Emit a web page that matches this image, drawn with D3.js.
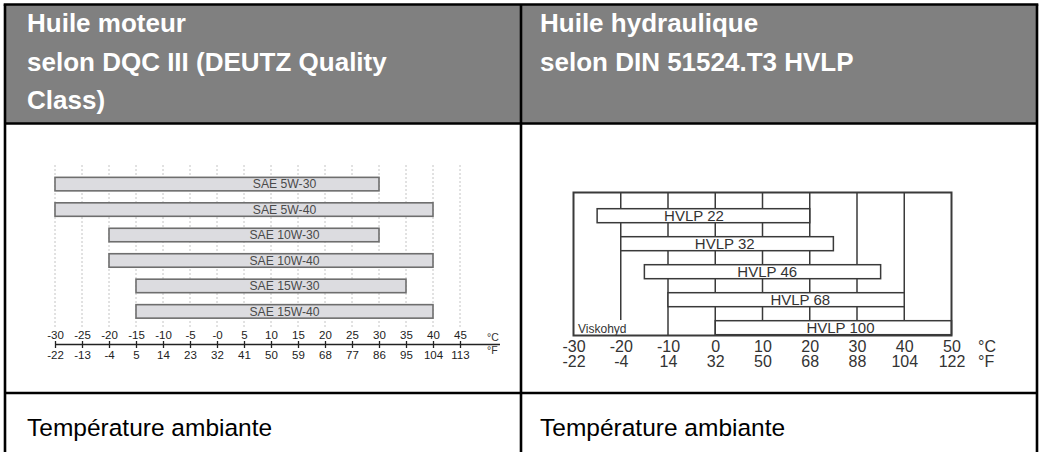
<!DOCTYPE html>
<html>
<head>
<meta charset="utf-8">
<script src="https://cdn.jsdelivr.net/npm/d3@7"></script>
<style>
  html, body { margin: 0; padding: 0; background: #fff; }
  svg { display: block; font-family: "Liberation Sans", Arial, sans-serif; }
</style>
</head>
<body>
<svg id="chart" width="1042" height="452"></svg>
<script>
// ---- Engine oil (DQC III) : SAE grades and their temperature range in °C
const saeGrades = ["SAE 5W-30", "SAE 5W-40", "SAE 10W-30", "SAE 10W-40", "SAE 15W-30", "SAE 15W-40"];
const saeMin = [-30, -30, -20, -20, -15, -15];
const saeMax = [30, 40, 30, 40, 35, 40];
const saeTicksC = [-30, -25, -20, -15, -10, -5, 0, 5, 10, 15, 20, 25, 30, 35, 40, 45];
const saeLabelsC = ["-30", "-25", "-20", "-15", "-10", "-5", "-0", "5", "10", "15", "20", "25", "30", "35", "40", "45"];
const saeLabelsF = ["-22", "-13", "-4", "5", "14", "23", "32", "41", "50", "59", "68", "77", "86", "95", "104", "113"];

// ---- Hydraulic oil (DIN 51524.T3 HVLP) : grades and temperature range in °C
const hvlpGrades = ["HVLP 22", "HVLP 32", "HVLP 46", "HVLP 68", "HVLP 100"];
const hvlpMin = [-25, -20, -15, -10, 0];
const hvlpMax = [20, 25, 35, 40, 50];
const hvlpLabelAt = [-4.5, 2, 11, 18, 26.5];
const hvlpTicksC = [-30, -20, -10, 0, 10, 20, 30, 40, 50];
const hvlpLabelsC = ["-30", "-20", "-10", "0", "10", "20", "30", "40", "50"];
const hvlpLabelsF = ["-22", "-4", "14", "32", "50", "68", "88", "104", "122"];
const hvlpGrid = [-20, -10, 0, 10, 20, 30, 40];

// ---- Table texts
const headLeft = ["Huile moteur", "selon DQC III (DEUTZ Quality", "Class)"];
const headRight = ["Huile hydraulique", "selon DIN 51524.T3 HVLP"];
const footText = "Température ambiante";

const svg = d3.select("#chart");

// ---------- table frame ----------
const T = { left: 5, right: 1037, mid: 521, top: 4.5, headBottom: 123.5, rowLine: 393, bottom: 470 };
svg.append("rect")
  .attr("x", T.left).attr("y", T.top)
  .attr("width", T.right - T.left).attr("height", T.headBottom - T.top)
  .attr("fill", "#808080");

const borders = svg.append("g").attr("stroke", "#000").attr("stroke-width", 2.6);
borders.append("line").attr("x1", T.left).attr("x2", T.left).attr("y1", T.top).attr("y2", T.bottom);
borders.append("line").attr("x1", T.right).attr("x2", T.right).attr("y1", T.top).attr("y2", T.bottom);
borders.append("line").attr("x1", T.mid).attr("x2", T.mid).attr("y1", T.top).attr("y2", T.bottom);
borders.append("line").attr("x1", T.left - 1.3).attr("x2", T.right + 1.3).attr("y1", T.top).attr("y2", T.top);
borders.append("line").attr("x1", T.left).attr("x2", T.right).attr("y1", T.headBottom).attr("y2", T.headBottom);
borders.append("line").attr("x1", T.left).attr("x2", T.right).attr("y1", T.rowLine).attr("y2", T.rowLine);

function headText(lines, x) {
  svg.append("g").selectAll("text").data(lines).join("text")
    .attr("x", x).attr("y", (d, i) => 32 + i * 38.5)
    .attr("fill", "#fff").attr("font-weight", "bold").attr("font-size", 26)
    .text(d => d);
}
headText(headLeft, 27);
headText(headRight, 540);

svg.append("text").attr("x", 27).attr("y", 436).attr("font-size", 24.5).attr("fill", "#000").text(footText);
svg.append("text").attr("x", 540).attr("y", 436).attr("font-size", 24.5).attr("fill", "#000").text(footText);

// ---------- left chart : SAE grades ----------
const xL = d3.scaleLinear().domain([-30, 45]).range([55, 460]);
const yL = d3.scaleBand().domain(saeGrades).range([171.5, 324]).paddingInner(0.47).paddingOuter(0.23);
const axisY = 344.5;

const gL = svg.append("g");
gL.append("g").selectAll("line").data(saeTicksC).join("line")
  .attr("x1", d => xL(d)).attr("x2", d => xL(d))
  .attr("y1", 165).attr("y2", 329)
  .attr("stroke", "#c4c4c4").attr("stroke-width", 1).attr("stroke-dasharray", "2,2");

gL.append("g").selectAll("rect").data(saeGrades).join("rect")
  .attr("x", (d, i) => xL(saeMin[i]))
  .attr("y", d => yL(d))
  .attr("width", (d, i) => xL(saeMax[i]) - xL(saeMin[i]))
  .attr("height", yL.bandwidth())
  .attr("fill", "#dcdce0").attr("stroke", "#6e6e6e").attr("stroke-width", 1.6);

gL.append("g").selectAll("text").data(saeGrades).join("text")
  .attr("x", xL(12.5)).attr("y", d => yL(d) + yL.bandwidth() / 2 + 4.3)
  .attr("text-anchor", "middle").attr("font-size", 12.2).attr("fill", "#4a4a4a")
  .text(d => d);

// Celsius labels above the line, Fahrenheit below
const axC = gL.append("g").attr("transform", `translate(0,${axisY})`)
  .call(d3.axisTop(xL).tickValues(saeTicksC).tickSizeInner(3.5).tickSizeOuter(0).tickPadding(2)
    .tickFormat((d, i) => saeLabelsC[i]));
const axF = gL.append("g").attr("transform", `translate(0,${axisY})`)
  .call(d3.axisBottom(xL).tickValues(saeTicksC).tickSizeInner(3.5).tickSizeOuter(0).tickPadding(2.5)
    .tickFormat((d, i) => saeLabelsF[i]));
[axC, axF].forEach(a => {
  a.select(".domain").remove();
  a.selectAll("line").attr("stroke", "#222").attr("stroke-width", 1.3);
  a.selectAll("text").attr("font-size", 11.5).attr("fill", "#222").attr("font-family", "Liberation Sans, Arial, sans-serif");
});
gL.append("line").attr("x1", xL(-30)).attr("x2", 500).attr("y1", axisY).attr("y2", axisY)
  .attr("stroke", "#222").attr("stroke-width", 1.3);
gL.append("text").attr("x", 487).attr("y", 341).attr("font-size", 10.5).attr("fill", "#333").text("°C");
gL.append("text").attr("x", 487).attr("y", 354).attr("font-size", 10.5).attr("fill", "#333").text("°F");

// ---------- right chart : HVLP grades ----------
const xR = d3.scaleLinear().domain([-30, 50]).range([573.5, 951.5]);
const frame = { top: 192.5, bottom: 335.5 };

const gR = svg.append("g");
gR.append("g").selectAll("line").data(hvlpGrid).join("line")
  .attr("x1", d => xR(d)).attr("x2", d => xR(d))
  .attr("y1", frame.top).attr("y2", frame.bottom)
  .attr("stroke", "#3a3a3a").attr("stroke-width", 1.5);

// label tag at the lower left corner, on a white ground
gR.append("rect").attr("x", xR(-30) + 1).attr("y", 320).attr("width", xR(-10) - xR(-30) - 3).attr("height", frame.bottom - 320)
  .attr("fill", "#fff");
gR.append("text").attr("x", 578).attr("y", 333).attr("font-size", 12).attr("fill", "#333").text("Viskohyd");

const barH = 14;
const barStep = 28;
gR.append("g").selectAll("rect").data(hvlpGrades).join("rect")
  .attr("x", (d, i) => xR(hvlpMin[i]))
  .attr("y", (d, i) => 208.7 + i * barStep)
  .attr("width", (d, i) => xR(hvlpMax[i]) - xR(hvlpMin[i]))
  .attr("height", barH)
  .attr("fill", "#fff").attr("stroke", "#3a3a3a").attr("stroke-width", 1.5);

gR.append("g").selectAll("text").data(hvlpGrades).join("text")
  .attr("x", (d, i) => xR(hvlpLabelAt[i]))
  .attr("y", (d, i) => 208.7 + i * barStep + barH / 2 + 5.3)
  .attr("text-anchor", "middle").attr("font-size", 15).attr("fill", "#333")
  .text(d => d);

gR.append("rect").attr("x", xR(-30)).attr("y", frame.top)
  .attr("width", xR(50) - xR(-30)).attr("height", frame.bottom - frame.top)
  .attr("fill", "none").attr("stroke", "#3a3a3a").attr("stroke-width", 2);

const axRC = gR.append("g").attr("transform", `translate(0,${frame.bottom})`)
  .call(d3.axisBottom(xR).tickValues(hvlpTicksC).tickSize(0).tickPadding(5)
    .tickFormat((d, i) => hvlpLabelsC[i]));
const axRF = gR.append("g").attr("transform", `translate(0,${frame.bottom + 15})`)
  .call(d3.axisBottom(xR).tickValues(hvlpTicksC).tickSize(0).tickPadding(5)
    .tickFormat((d, i) => hvlpLabelsF[i]));
[axRC, axRF].forEach(a => {
  a.select(".domain").remove();
  a.selectAll("text").attr("font-size", 16).attr("fill", "#333").attr("font-family", "Liberation Sans, Arial, sans-serif");
});
gR.append("text").attr("x", 978).attr("y", 351.5).attr("font-size", 16).attr("fill", "#333").text("°C");
gR.append("text").attr("x", 978).attr("y", 366.5).attr("font-size", 16).attr("fill", "#333").text("°F");
</script>
</body>
</html>
